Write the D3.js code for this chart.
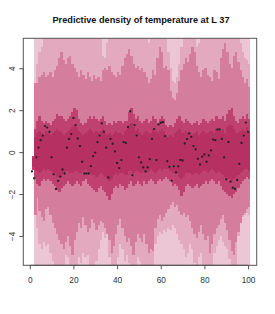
<!DOCTYPE html>
<html><head><meta charset="utf-8">
<script src="https://cdn.jsdelivr.net/npm/d3@7/dist/d3.min.js"></script>
<style>body{margin:0;background:#fff}svg{display:block}</style>
</head><body>
<svg id="c" width="275" height="314"></svg>
<script>
const title = "Predictive density of temperature at L 37";
const timeIndex = [1,2,3,4,5,6,7,8,9,10,11,12,13,14,15,16,17,18,19,20,21,22,23,24,25,26,27,28,29,30,31,32,33,34,35,36,37,38,39,40,41,42,43,44,45,46,47,48,49,50,51,52,53,54,55,56,57,58,59,60,61,62,63,64,65,66,67,68,69,70,71,72,73,74,75,76,77,78,79,80,81,82,83,84,85,86,87,88,89,90,91,92,93,94,95,96,97,98,99,100];
const observed = [-0.92,-1.25,-0.25,0.21,0.57,0.79,1.24,1.17,0.97,-0.25,
-1.06,-1.76,-1.37,-1.17,-0.83,-1.02,0.21,0.62,0.86,1.63,
1.29,0.65,0.29,-0.46,-1.02,-1.02,-1.02,-0.67,-0.19,-0.02,
0.48,0.79,1.37,0.97,0.21,-1.21,0.63,0.40,0.03,-0.52,
-0.76,-0.38,0.48,0.44,1.19,1.95,-1.10,1.29,0.79,-0.25,
-0.49,-0.73,-0.92,-0.73,-0.33,0.63,1.10,-0.38,1.32,1.40,
1.43,0.76,-0.43,-0.70,-1.37,-0.68,-0.97,-0.68,-0.37,-0.40,
0.41,0.62,0.89,0.73,0.29,0.13,-0.32,-0.59,-0.22,-0.11,
-0.46,-0.16,0.08,0.60,0.57,1.08,1.08,0.63,-0.25,-1.30,
0.48,-1.41,-1.70,-1.76,-1.33,-0.56,0.44,0.79,1.41,0.97];
// band bounds, outermost (very pale) to innermost (core)
const outerHi = [-0.2,6,6,6,6,6,6,6,6,6,6,6,6,6,6,6,6,6,6,6,6,6,6,6,6,6,6,6,6,6,6,6,6,6,6,6,6,6,6,6,6,6,6,6,6,6,6,6,6,6,6,6,6,6,6,6,6,6,6,6,6,6,6,6,6,6,6,6,6,6,6,6,6,6,6,6,6,6,6,6,6,6,6,6,6,6,6,6,6,6,6,6,6,6,6,6,6,6,6,6];
const outerLo = [-0.85,-6,-6,-6,-6,-6,-6,-6,-6,-6,-6,-6,-6,-6,-6,-6,-6,-6,-6,-6,-6,-6,-6,-6,-6,-6,-6,-6,-6,-6,-6,-6,-6,-6,-6,-6,-6,-6,-6,-6,-6,-6,-6,-6,-6,-6,-6,-6,-6,-6,-6,-6,-6,-6,-6,-6,-6,-6,-6,-6,-6,-6,-6,-6,-6,-6,-6,-6,-6,-6,-6,-6,-6,-6,-6,-6,-6,-6,-6,-6,-6,-6,-6,-6,-6,-6,-6,-6,-6,-6,-6,-6,-6,-6,-6,-6,-6,-6,-6,-6];
const paleHi = [-0.2,3.3,4.2,4.8,5.0,5.6,5.8,6,6,6,
6,6,6,6,6,6,6,6,6,6,
6,5.8,6,6,5.6,6,6,5.7,6,6,
6,5.5,4.6,4.5,5.2,6,6,6,5.8,6,
6,6,6,6,6,6,6,6,6,6,
6,6,5.6,5.2,5.8,6,6,6,6,6,
6,5.5,4.8,4.0,3.4,3.3,3.6,4.2,5.0,6,
6,6,6,6,5.4,5.0,5.2,6,6,6,
6,6,5.6,6,6,6,6,6,6,6,
6,6,6,6,5.8,5.2,4.8,4.5,4.4,4.2];
const paleLo = [-0.85,-3.0,-3.6,-4.4,-4.6,-4.3,-4.5,-4.4,-4.8,-5.2,
-5.5,-6,-6,-6,-5.6,-4.9,-5.0,-6,-6,-5.8,
-5.4,-5.0,-5.3,-4.8,-5.0,-4.9,-6,-6,-5.5,-5.2,
-4.6,-4.2,-3.8,-4.1,-3.9,-5.0,-6,-6,-5.6,-5.0,
-4.4,-4.6,-5.2,-4.9,-5.3,-6,-6,-5.8,-5.0,-5.2,
-6,-5.4,-5.6,-6,-6,-6,-4.4,-4.0,-3.8,-3.9,
-3.7,-3.8,-3.6,-3.7,-3.5,-3.6,-3.9,-4.2,-4.4,-4.6,
-5.0,-4.8,-4.4,-4.6,-5.3,-5.6,-5.0,-4.8,-5.4,-6,
-6,-6,-5.5,-4.8,-4.5,-4.2,-4.0,-4.3,-4.5,-4.6,
-5.1,-6,-6,-5.4,-4.0,-3.4,-3.1,-3.0,-2.9,-3.0];
const mediumHi = [-0.2,3.3,3.3,3.6,3.7,3.8,3.6,3.7,3.8,3.6,
3.9,4.1,4.5,4.8,4.4,4.2,4.5,4.6,4.2,4.0,
3.8,3.6,3.9,3.7,3.5,3.8,3.6,3.4,3.7,3.5,
3.6,3.4,3.9,4.0,3.9,4.1,3.8,3.7,3.6,3.8,
3.7,4.1,4.5,4.7,4.9,4.6,4.2,4.0,4.1,3.9,
4.0,3.8,3.6,3.3,3.5,3.9,3.7,4.5,5.0,4.8,
4.0,4.1,3.9,2.9,2.6,2.5,2.8,3.4,3.9,4.2,
4.5,4.3,4.7,5.0,4.8,4.1,3.8,3.6,3.9,4.0,
3.7,3.6,3.4,3.9,3.8,3.5,4.5,4.9,5.2,4.8,
4.2,4.0,4.6,4.8,4.3,3.9,3.6,3.3,3.5,3.1];
const mediumLo = [-0.85,-3.0,-2.2,-2.8,-3.1,-3.3,-2.7,-2.6,-3.0,-3.4,
-3.6,-3.9,-4.2,-4.4,-4.6,-4.3,-4.0,-4.5,-4.9,-4.2,
-3.8,-3.4,-3.6,-3.1,-3.5,-3.8,-3.6,-3.2,-3.4,-3.7,
-3.5,-3.3,-3.4,-3.6,-3.9,-4.2,-4.8,-4.5,-3.9,-3.5,
-3.2,-3.6,-4.0,-4.3,-4.1,-4.5,-4.9,-4.3,-3.9,-4.1,
-4.3,-3.9,-4.4,-4.8,-4.6,-4.7,-3.6,-3.2,-3.0,-3.3,
-3.1,-2.9,-2.7,-2.5,-2.4,-2.6,-2.5,-2.8,-3.0,-2.9,
-3.1,-3.0,-3.3,-3.6,-3.9,-4.1,-3.8,-3.5,-3.9,-4.2,
-4.0,-4.8,-4.4,-3.9,-3.6,-3.5,-3.2,-3.0,-3.4,-3.7,
-4.2,-4.7,-4.9,-4.3,-3.8,-3.4,-3.0,-2.9,-2.7,-2.6];
const darkHi = [-0.2,1.1,1.5,1.7,1.5,1.4,1.5,1.4,1.3,1.5,
1.6,1.8,1.7,1.7,1.6,1.5,1.6,1.7,1.9,2.1,
2.0,1.6,1.4,1.3,1.4,1.6,1.7,1.6,1.7,1.6,
1.5,1.6,1.7,1.5,1.3,1.4,1.3,1.5,1.4,1.5,
1.5,1.4,1.5,1.5,1.9,2.1,1.8,1.6,1.7,1.5,
1.4,1.5,1.6,1.4,1.5,1.7,1.6,1.4,1.6,1.7,
1.6,1.3,1.2,1.3,1.2,1.4,1.6,1.7,1.5,1.4,
1.6,1.5,1.4,1.3,1.4,1.5,1.3,1.4,1.6,1.5,
1.4,1.5,1.6,1.5,1.7,1.6,1.6,1.7,1.5,1.8,
2.0,2.1,1.7,1.5,1.4,1.6,1.7,1.6,1.8,1.6];
const darkLo = [-0.85,-1.3,-1.5,-1.6,-1.4,-1.3,-1.4,-1.3,-1.4,-1.5,
-1.6,-1.8,-1.9,-1.7,-1.6,-1.5,-1.4,-1.5,-1.6,-1.5,
-1.4,-1.5,-1.6,-1.4,-1.3,-1.5,-1.6,-1.7,-1.8,-1.9,
-1.7,-1.6,-1.8,-1.9,-2.1,-2.3,-2.0,-1.7,-1.6,-1.7,
-1.5,-1.6,-1.8,-1.7,-1.5,-1.4,-1.6,-1.5,-1.4,-1.5,
-1.6,-1.4,-1.5,-1.4,-1.3,-1.4,-1.5,-1.4,-1.3,-1.4,
-1.3,-1.2,-1.3,-1.4,-1.6,-1.5,-1.6,-1.8,-2.1,-1.9,
-1.6,-1.5,-1.6,-1.7,-1.6,-1.5,-1.7,-1.6,-1.5,-1.4,
-1.5,-1.4,-1.3,-1.4,-1.5,-1.4,-1.6,-1.8,-1.9,-2.0,
-2.1,-2.2,-2.0,-1.9,-1.7,-1.5,-1.4,-1.3,-1.2,-1.3];
const coreHi = [-0.3,0.7,0.9,1.0,0.9,0.8,1.0,0.9,0.8,0.9,
1.0,1.1,1.0,0.9,0.8,0.9,1.0,1.1,1.2,1.3,
1.2,1.0,0.9,0.8,0.9,1.0,1.1,1.0,0.9,1.0,
0.9,1.0,1.1,0.9,0.8,0.9,0.8,0.9,1.0,0.9,
0.9,0.8,1.0,1.1,1.3,1.4,1.2,1.0,1.1,0.9,
0.8,0.9,1.0,0.9,0.9,1.1,1.0,0.9,1.0,1.1,
1.0,0.8,0.7,0.8,0.7,0.9,1.0,1.1,0.9,0.9,
1.0,0.9,0.9,0.8,0.9,1.0,0.8,0.9,1.0,0.9,
0.9,1.0,1.0,0.9,1.1,1.0,1.0,1.1,0.9,1.2,
1.3,1.3,1.1,0.9,0.9,1.0,1.1,1.0,1.2,1.0];
const coreLo = [-0.7,-0.8,-0.9,-1.0,-0.9,-0.8,-0.9,-0.8,-0.9,-1.0,
-1.0,-1.2,-1.2,-1.1,-1.0,-0.9,-0.9,-1.0,-1.0,-0.9,
-0.9,-1.0,-1.0,-0.9,-0.8,-0.9,-1.0,-1.1,-1.1,-1.2,
-1.1,-1.0,-1.1,-1.2,-1.3,-1.4,-1.3,-1.1,-1.0,-1.1,
-1.0,-1.0,-1.1,-1.1,-0.9,-0.9,-1.0,-0.9,-0.9,-1.0,
-1.0,-0.9,-1.0,-0.9,-0.8,-0.9,-1.0,-0.9,-0.8,-0.9,
-0.8,-0.8,-0.8,-0.9,-1.0,-1.0,-1.0,-1.2,-1.3,-1.2,
-1.0,-1.0,-1.0,-1.1,-1.0,-1.0,-1.1,-1.0,-0.9,-0.9,
-1.0,-0.9,-0.8,-0.9,-1.0,-0.9,-1.0,-1.1,-1.2,-1.3,
-1.3,-1.4,-1.3,-1.2,-1.1,-1.0,-0.9,-0.8,-0.8,-0.9];
const xTicks = [0,20,40,60,80,100];
const yTicks = [-4,-2,0,2,4];

const bands = [
  {lo: outerLo, hi: outerHi, color: "#EDC6D5"},
  {lo: paleLo, hi: paleHi, color: "#E2A9BF"},
  {lo: mediumLo, hi: mediumHi, color: "#D47D9D"},
  {lo: darkLo, hi: darkHi, color: "#BF416F"},
  {lo: coreLo, hi: coreHi, color: "#B63161"}
];

const L = 23.3, R = 256.7, T = 38.3, B = 265.3;
const x = d3.scaleLinear().domain([-2.96, 103.96]).range([L, R]);
const y = d3.scaleLinear().domain([-5.4, 5.43]).range([B, T]);
const svg = d3.select("#c");
const font = "'Liberation Sans', Arial, Helvetica, sans-serif";

svg.append("defs").append("clipPath").attr("id","clip")
  .append("rect").attr("x",L).attr("y",T).attr("width",R-L).attr("height",B-T);

const plot = svg.append("g").attr("clip-path","url(#clip)");
bands.forEach(b => {
  plot.append("g").attr("shape-rendering","crispEdges")
    .selectAll("rect").data(timeIndex).join("rect")
    .attr("x", (t) => x(t))
    .attr("width", (t) => x(t+1) - x(t) + 0.2)
    .attr("y", (t,i) => y(b.hi[i]))
    .attr("height", (t,i) => Math.max(0, y(b.lo[i]) - y(b.hi[i])))
    .attr("fill", b.color);
});

plot.append("g").selectAll("circle").data(timeIndex).join("circle")
  .attr("cx", t => x(t)).attr("cy", (t,i) => y(observed[i]))
  .attr("r", 1.15).attr("fill", "#222");

// box
svg.append("rect").attr("x",L).attr("y",T).attr("width",R-L).attr("height",B-T)
  .attr("fill","none").attr("stroke","#555").attr("stroke-width",1);

// axes
const xa = svg.append("g").attr("transform",`translate(0,${B})`)
  .call(d3.axisBottom(x).tickValues(xTicks).tickSize(4).tickSizeOuter(0).tickFormat(d3.format("d")));
xa.select(".domain").attr("d", `M${x(0)},0H${x(100)}`).attr("stroke","#555");
xa.selectAll(".tick line").attr("stroke","#555");
xa.selectAll(".tick text").attr("y", 11.5).attr("dy", "0.71em")
  .attr("font-family", font).attr("font-size", 8.3).attr("fill","#333");

const ya = svg.append("g").attr("transform",`translate(${L},0)`)
  .call(d3.axisLeft(y).tickValues(yTicks).tickSize(4).tickSizeOuter(0).tickFormat(d3.format("d")));
ya.select(".domain").attr("d", `M0,${y(-4)}V${y(4)}`).attr("stroke","#555");
ya.selectAll(".tick line").attr("stroke","#555");
ya.selectAll(".tick text")
  .attr("x", null).attr("dy", null)
  .attr("transform", "translate(-8.6,0) rotate(-90)")
  .attr("text-anchor","middle")
  .attr("font-family", font).attr("font-size", 8.3).attr("fill","#333");

svg.append("text").attr("x", 141).attr("y", 23)
  .attr("text-anchor","middle").attr("font-family", font)
  .attr("font-weight","bold").attr("font-size", 9.2).attr("fill","#111")
  .text(title);
</script>
</body></html>
